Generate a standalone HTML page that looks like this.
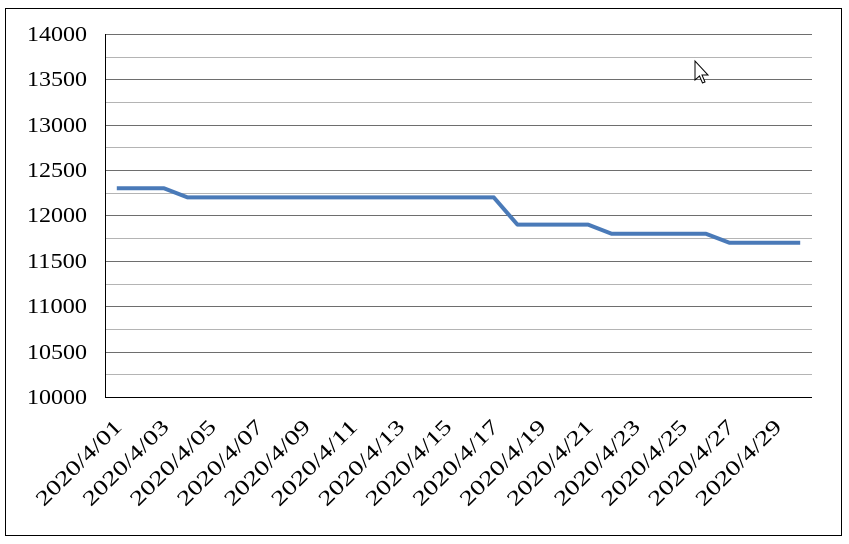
<!DOCTYPE html>
<html><head><style>body{margin:0;background:#fff}svg{display:block}</style></head><body>
<svg width="849" height="544" xmlns="http://www.w3.org/2000/svg" font-family="Liberation Serif, serif">
<rect x="5.5" y="8.5" width="836" height="527" fill="#fff" stroke="#000" stroke-width="1"/>
<g stroke="#b4b4b4" stroke-width="1">
<line x1="105" x2="812" y1="374.5" y2="374.5"/><line x1="105" x2="812" y1="329.5" y2="329.5"/>
<line x1="105" x2="812" y1="284.5" y2="284.5"/><line x1="105" x2="812" y1="238.5" y2="238.5"/>
<line x1="105" x2="812" y1="193.5" y2="193.5"/><line x1="105" x2="812" y1="147.5" y2="147.5"/>
<line x1="105" x2="812" y1="102.5" y2="102.5"/><line x1="105" x2="812" y1="57.5" y2="57.5"/>
</g>
<g stroke="#6e6e6e" stroke-width="1">
<line x1="105" x2="812" y1="352.5" y2="352.5"/><line x1="105" x2="812" y1="306.5" y2="306.5"/>
<line x1="105" x2="812" y1="261.5" y2="261.5"/><line x1="105" x2="812" y1="215.5" y2="215.5"/>
<line x1="105" x2="812" y1="170.5" y2="170.5"/><line x1="105" x2="812" y1="125.5" y2="125.5"/>
<line x1="105" x2="812" y1="79.5" y2="79.5"/><line x1="105" x2="812" y1="34.5" y2="34.5"/>
</g>
<line x1="105.5" x2="105.5" y1="34" y2="397" stroke="#000"/>
<line x1="105" x2="812" y1="397.5" y2="397.5" stroke="#000"/>
<g font-size="21" text-anchor="end">
<text x="87" y="404" textLength="60" lengthAdjust="spacingAndGlyphs">10000</text>
<text x="87" y="359" textLength="60" lengthAdjust="spacingAndGlyphs">10500</text>
<text x="87" y="313" textLength="60" lengthAdjust="spacingAndGlyphs">11000</text>
<text x="87" y="268" textLength="60" lengthAdjust="spacingAndGlyphs">11500</text>
<text x="87" y="222" textLength="60" lengthAdjust="spacingAndGlyphs">12000</text>
<text x="87" y="177" textLength="60" lengthAdjust="spacingAndGlyphs">12500</text>
<text x="87" y="132" textLength="60" lengthAdjust="spacingAndGlyphs">13000</text>
<text x="87" y="86" textLength="60" lengthAdjust="spacingAndGlyphs">13500</text>
<text x="87" y="41" textLength="60" lengthAdjust="spacingAndGlyphs">14000</text>
</g>
<polyline points="116.8,188.3 163.9,188.3 187.5,197.4 493.8,197.4 517.4,224.6 588.1,224.6 611.6,233.7 705.9,233.7 729.4,242.7 800.2,242.7" fill="none" stroke="#4a7ab8" stroke-width="4" stroke-linejoin="round"/>
<g font-size="21" text-anchor="end">
<text transform="translate(123,428) rotate(-45)" textLength="112" lengthAdjust="spacingAndGlyphs">2020/4/01</text>
<text transform="translate(170.1,428) rotate(-45)" textLength="112" lengthAdjust="spacingAndGlyphs">2020/4/03</text>
<text transform="translate(217.3,428) rotate(-45)" textLength="112" lengthAdjust="spacingAndGlyphs">2020/4/05</text>
<text transform="translate(264.4,428) rotate(-45)" textLength="112" lengthAdjust="spacingAndGlyphs">2020/4/07</text>
<text transform="translate(311.5,428) rotate(-45)" textLength="112" lengthAdjust="spacingAndGlyphs">2020/4/09</text>
<text transform="translate(358.6,428) rotate(-45)" textLength="112" lengthAdjust="spacingAndGlyphs">2020/4/11</text>
<text transform="translate(405.8,428) rotate(-45)" textLength="112" lengthAdjust="spacingAndGlyphs">2020/4/13</text>
<text transform="translate(452.9,428) rotate(-45)" textLength="112" lengthAdjust="spacingAndGlyphs">2020/4/15</text>
<text transform="translate(500,428) rotate(-45)" textLength="112" lengthAdjust="spacingAndGlyphs">2020/4/17</text>
<text transform="translate(547.1,428) rotate(-45)" textLength="112" lengthAdjust="spacingAndGlyphs">2020/4/19</text>
<text transform="translate(594.3,428) rotate(-45)" textLength="112" lengthAdjust="spacingAndGlyphs">2020/4/21</text>
<text transform="translate(641.4,428) rotate(-45)" textLength="112" lengthAdjust="spacingAndGlyphs">2020/4/23</text>
<text transform="translate(688.5,428) rotate(-45)" textLength="112" lengthAdjust="spacingAndGlyphs">2020/4/25</text>
<text transform="translate(735.6,428) rotate(-45)" textLength="112" lengthAdjust="spacingAndGlyphs">2020/4/27</text>
<text transform="translate(782.8,428) rotate(-45)" textLength="112" lengthAdjust="spacingAndGlyphs">2020/4/29</text>
</g>
<g transform="translate(695,61)"><path d="M0,0 L0,19 L4.5,15 L7.5,22 L10,21 L7,14 L13,14 Z" fill="#fff" stroke="#000" stroke-width="1"/></g>
</svg>
</body></html>
